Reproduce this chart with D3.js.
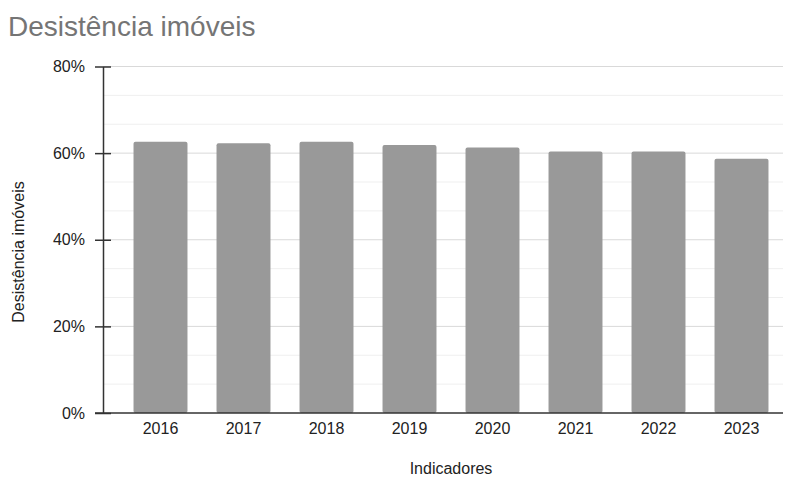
<!DOCTYPE html>
<meta charset="utf-8">
<html>
<head>
  <script src="https://d3js.org/d3.v7.min.js"></script>
  <style>
    body { margin: 0; background: #fff; font-family: "Liberation Sans", Arial, sans-serif; }
    svg text { font-family: "Liberation Sans", Arial, sans-serif; }
  </style>
</head>
<body>
  <svg width="786" height="479"></svg>
  <script>
    const years = ["2016", "2017", "2018", "2019", "2020", "2021", "2022", "2023"];
    const values = [62.6, 62.3, 62.6, 61.9, 61.3, 60.4, 60.4, 58.7];
    const majorTicks = [0, 20, 40, 60, 80];

    const svg = d3.select("svg");
    const plotLeft = 103, plotRight = 783, plotTop = 66.5, plotBottom = 413;

    const x = d3.scaleBand()
        .domain(years)
        .range([119, plotRight])
        .paddingInner(0.35)
        .paddingOuter(0.175);

    const y = d3.scaleLinear()
        .domain([0, 80])
        .range([plotBottom, plotTop]);

    // minor gridlines (3 per major interval)
    const minor = d3.range(0, 80, 20 / 3).filter(v => !majorTicks.some(m => Math.abs(m - v) < 0.01));
    svg.append("g").selectAll("line")
      .data(minor)
      .enter().append("line")
        .attr("x1", plotLeft).attr("x2", plotRight)
        .attr("y1", d => y(d)).attr("y2", d => y(d))
        .attr("stroke", "#efefef");

    svg.append("g").selectAll("line")
      .data(majorTicks.slice(1))
      .enter().append("line")
        .attr("x1", plotLeft).attr("x2", plotRight)
        .attr("y1", d => y(d)).attr("y2", d => y(d))
        .attr("stroke", "#d9d9d9");

    // bars
    svg.selectAll(".bar")
      .data(years)
      .enter().append("rect")
        .attr("class", "bar")
        .attr("x", d => x(d))
        .attr("width", x.bandwidth())
        .attr("y", (d, i) => y(values[i]))
        .attr("height", (d, i) => y(0) - y(values[i]))
        .attr("rx", 2)
        .attr("fill", "#999999");

    // y axis
    const yAxis = svg.append("g")
        .attr("transform", `translate(${plotLeft},0)`)
        .call(d3.axisLeft(y).tickValues(majorTicks).tickFormat(d => d + "%").tickSize(0).tickPadding(18));
    yAxis.select(".domain").attr("stroke", "#333").attr("stroke-width", 1.5);
    yAxis.selectAll(".tick text").attr("font-size", 16).attr("fill", "#222");
    yAxis.selectAll(".tick").append("line")
        .attr("x1", -8).attr("x2", 8)
        .attr("stroke", "#333").attr("stroke-width", 1.5);

    // baseline
    svg.append("line")
        .attr("x1", plotLeft - 8).attr("x2", plotRight)
        .attr("y1", plotBottom).attr("y2", plotBottom)
        .attr("stroke", "#333").attr("stroke-width", 1.5);

    // x axis labels
    const xAxis = svg.append("g")
        .attr("transform", `translate(0,${plotBottom})`)
        .call(d3.axisBottom(x).tickSize(0).tickPadding(10));
    xAxis.select(".domain").remove();
    xAxis.selectAll(".tick text").attr("font-size", 16).attr("fill", "#222");

    // titles
    svg.append("text")
        .attr("x", 8).attr("y", 36)
        .attr("font-size", 28)
        .attr("fill", "#757575")
        .text("Desistência imóveis");

    svg.append("text")
        .attr("x", 451)
        .attr("y", 474)
        .attr("text-anchor", "middle")
        .attr("font-size", 16)
        .attr("fill", "#222")
        .text("Indicadores");

    svg.append("text")
        .attr("transform", `translate(24,252) rotate(-90)`)
        .attr("text-anchor", "middle")
        .attr("font-size", 16)
        .attr("fill", "#222")
        .text("Desistência imóveis");
  </script>
</body>
</html>
